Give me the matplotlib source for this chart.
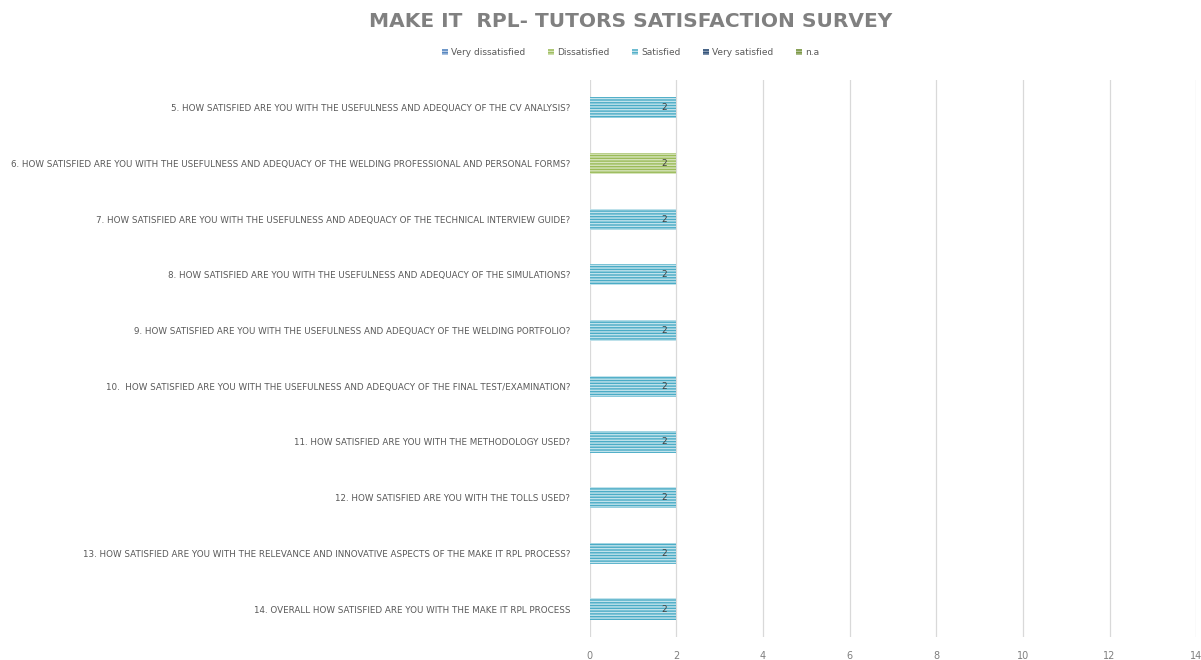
import numpy as np
import matplotlib.pyplot as plt

# data
questions = [
    "5. How satisfied are you with the usefulness and adequacy of the CV analysis?",
    "6. How satisfied are you with the usefulness and adequacy of the Welding Professional and Personal Forms?",
    "7. How satisfied are you with the usefulness and adequacy of the Technical Interview Guide?",
    "8. How satisfied are you with the usefulness and adequacy of the simulations?",
    "9. How satisfied are you with the usefulness and adequacy of the Welding Portfolio?",
    "10.  How satisfied are you with the usefulness and adequacy of the final test/examination?",
    "11. How satisfied are you with the methodology used?",
    "12. How satisfied are you with the tolls used?",
    "13. How satisfied are you with the relevance and innovative aspects of the MAKE IT RPL process?",
    "14. Overall how satisfied are you with the MAKE IT RPL process",
]
very_dissatisfied = [0, 0, 0, 0, 0, 0, 0, 0, 0, 0]
dissatisfied = [0, 2, 0, 0, 0, 0, 0, 0, 0, 0]
satisfied = [2, 0, 2, 2, 2, 2, 2, 2, 2, 2]
very_satisfied = [0, 0, 0, 0, 0, 0, 0, 0, 0, 0]
n_a = [0, 0, 0, 0, 0, 0, 0, 0, 0, 0]

series = [
    ("Very dissatisfied", very_dissatisfied, "#4f81bd", "#b9cde6"),
    ("Dissatisfied", dissatisfied, "#9bbb59", "#d6e4bb"),
    ("Satisfied", satisfied, "#4bacc6", "#c2e3ec"),
    ("Very satisfied", very_satisfied, "#2c4d75", "#8a9cb3"),
    ("n.a", n_a, "#77933c", "#b4c59a"),
]

plt.rcParams['hatch.linewidth'] = 1.0
fig = plt.figure(figsize=(12.01, 6.6), dpi=100)
ax = fig.add_axes([0.491, 0.035, 0.505, 0.844])

y = np.arange(len(questions))
left = np.zeros(len(questions))
for name, vals, col, light in series:
    vals = np.array(vals, dtype=float)
    bars = ax.barh(y, vals, left=left, height=0.38, color=col, edgecolor=light,
                   hatch='------', linewidth=0, label=name, zorder=3)
    for b, v in zip(bars, vals):
        if v > 0:
            ax.text(b.get_x() + b.get_width() - 0.28, b.get_y() + b.get_height() / 2,
                    f"{v:g}", ha='center', va='center', fontsize=6.5, color='#404040', zorder=4)
    left += vals

ax.set_xlim(0, 14)
ax.set_xticks(range(0, 15, 2))
ax.set_ylim(len(questions) - 0.5, -0.5)
ax.set_yticks(y)
ax.set_yticklabels([q.upper() for q in questions], fontsize=6.3, color='#595959')
ax.tick_params(axis='y', length=0, pad=14)
ax.tick_params(axis='x', length=0, labelsize=7, labelcolor='#7f7f7f', pad=10)
ax.grid(axis='x', color='#d9d9d9', linewidth=0.9, zorder=0)
for s in ax.spines.values():
    s.set_visible(False)

fig.text(0.525, 0.968, "MAKE IT  RPL- TUTORS SATISFACTION SURVEY", ha='center', va='center',
         fontsize=14.5, fontweight='bold', color='#808080')
fig.legend(loc='center', bbox_to_anchor=(0.525, 0.92), ncol=5, frameon=False,
           fontsize=6.5, labelcolor='#595959', handlelength=0.7, handleheight=0.7,
           handletextpad=0.3, columnspacing=2.5)

fig.savefig("out.png", dpi=100)
